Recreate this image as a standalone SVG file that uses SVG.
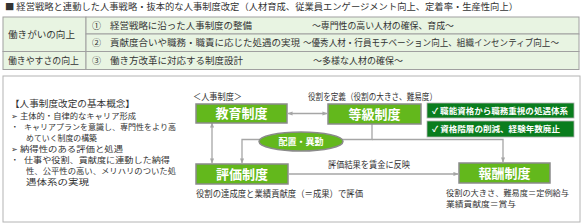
<svg xmlns="http://www.w3.org/2000/svg" width="582" height="224" viewBox="0 0 582 224">
<defs>
<style>
text{font-family:"Noto Sans CJK JP","Noto Sans",sans-serif;fill:#333;font-size:9px}
.sm{font-size:7.6px}
.cell{fill:#e8f4e2;stroke:#a0a0a0;stroke-width:1}
.node{fill:#63b81c;stroke:#8a8a8a;stroke-width:1.5}
.nl{fill:#fff;font-weight:bold;font-size:13px}
.el{fill:#fff;font-weight:bold;font-size:9px}
.badge{fill:#0a7d1e;stroke:#b0b0b0;stroke-width:0.8}
.bl{fill:#fff;font-weight:bold;font-size:8px}
.con{fill:none;stroke:#a6a6a6;stroke-width:1.3}
</style>
<marker id="ah" viewBox="0 0 6 6" refX="5.5" refY="3" markerWidth="5" markerHeight="5" orient="auto-start-reverse" markerUnits="userSpaceOnUse">
<path d="M0,0.5 L6,3 L0,5.5 z" fill="#a6a6a6"/>
</marker>
</defs>
<rect width="582" height="224" fill="#fff"/>
<text x="5" y="9.5" font-size="9.5" textLength="513" lengthAdjust="spacingAndGlyphs">■ 経営戦略と連動した人事戦略・抜本的な人事制度改定（人材育成、従業員エンゲージメント向上、定着率・生産性向上）</text>
<g id="table">
<rect class="cell" x="3" y="17" width="83" height="34.5"/>
<rect class="cell" x="86" y="17" width="493" height="17"/>
<rect class="cell" x="86" y="34" width="493" height="17.5"/>
<rect class="cell" x="3" y="51.5" width="83" height="18"/>
<rect class="cell" x="86" y="51.5" width="493" height="18"/>
<text x="8" y="37.5" font-size="9.5" textLength="67" lengthAdjust="spacingAndGlyphs">働きがいの向上</text>
<text x="8" y="64" font-size="9.5" textLength="71" lengthAdjust="spacingAndGlyphs">働きやすさの向上</text>
<text x="92" y="28.5" font-size="9.5">①</text>
<text x="110" y="28.5" font-size="9.5" textLength="142" lengthAdjust="spacingAndGlyphs">経営戦略に沿った人事制度の整備</text>
<text x="312" y="28.5" font-size="9.5" textLength="142" lengthAdjust="spacingAndGlyphs">～専門性の高い人材の確保、育成～</text>
<text x="92" y="46" font-size="9.5">②</text>
<text x="110" y="46" font-size="9.5" textLength="190" lengthAdjust="spacingAndGlyphs">貢献度合いや職務・職責に応じた処遇の実現</text>
<text x="303" y="46" font-size="9.5" textLength="256" lengthAdjust="spacingAndGlyphs">～優秀人材・行員モチベーション向上、組織インセンティブ向上～</text>
<text x="92" y="64" font-size="9.5">③</text>
<text x="110" y="64" font-size="9.5" textLength="133" lengthAdjust="spacingAndGlyphs">働き方改革に対応する制度設計</text>
<text x="313" y="64" font-size="9.5" textLength="90" lengthAdjust="spacingAndGlyphs">～多様な人材の確保～</text>
</g>
<rect x="3" y="76" width="577" height="146" fill="#fff" stroke="#b4b4b4" stroke-width="1"/>
<g id="concept">
<text x="10" y="107" textLength="125" lengthAdjust="spacingAndGlyphs">【人事制度改定の基本概念】</text>
<text class="sm" x="11" y="119">➢</text>
<text class="sm" x="20" y="119" textLength="116" lengthAdjust="spacingAndGlyphs">主体的・自律的なキャリア形成</text>
<text class="sm" x="11" y="130">・</text>
<text class="sm" x="24" y="130" textLength="152" lengthAdjust="spacingAndGlyphs">キャリアプランを意識し、専門性をより高</text>
<text class="sm" x="26" y="141" textLength="71" lengthAdjust="spacingAndGlyphs">めていく制度の構築</text>
<text class="sm" x="11" y="152">➢</text>
<text class="sm" x="20" y="152" textLength="103" lengthAdjust="spacingAndGlyphs">納得性のある評価と処遇</text>
<text class="sm" x="11" y="163">・</text>
<text class="sm" x="24" y="163" textLength="146" lengthAdjust="spacingAndGlyphs">仕事や役割、貢献度に連動した納得</text>
<text class="sm" x="26" y="174" textLength="150" lengthAdjust="spacingAndGlyphs">性、公平性の高い、メリハリのついた処</text>
<text class="sm" x="26" y="185" textLength="63" lengthAdjust="spacingAndGlyphs">遇体系の実現</text>
</g>
<text x="193" y="99.5" textLength="49" lengthAdjust="spacingAndGlyphs">＜人事制度＞</text>
<text x="308" y="99.5" textLength="129" lengthAdjust="spacingAndGlyphs">役割を定義（役割の大きさ、難易度）</text>
<g id="connectors">
<line class="con" x1="288" y1="113.5" x2="327" y2="113.5" marker-start="url(#ah)" marker-end="url(#ah)"/>
<line class="con" x1="212" y1="123" x2="212" y2="163" marker-start="url(#ah)" marker-end="url(#ah)"/>
<polyline class="con" points="372,124 372,139.5 242,139.5 242,163" marker-end="url(#ah)"/>
<polyline class="con" points="372,139.5 503,139.5 503,162" marker-end="url(#ah)"/>
<line class="con" x1="289" y1="174" x2="458" y2="174" marker-end="url(#ah)"/>
</g>
<g id="n-kyoiku">
<rect class="node" x="196" y="104" width="91" height="19"/>
<text class="nl" x="241.5" y="118" text-anchor="middle">教育制度</text>
</g>
<g id="n-tokyu">
<rect class="node" x="328" y="104" width="93" height="20"/>
<text class="nl" x="374.5" y="118.5" text-anchor="middle">等級制度</text>
</g>
<g id="n-haichi">
<ellipse class="node" cx="301" cy="141.5" rx="42" ry="9.5" stroke-width="1"/>
<text class="el" x="301" y="144.8" text-anchor="middle">配置・異動</text>
</g>
<g id="n-hyoka">
<rect class="node" x="196" y="164" width="92" height="20"/>
<text class="nl" x="242" y="178.5" text-anchor="middle">評価制度</text>
</g>
<g id="n-hoshu">
<rect class="node" x="459" y="163" width="91" height="20"/>
<text class="nl" x="504.5" y="177.5" text-anchor="middle">報酬制度</text>
</g>
<g id="b1">
<rect class="badge" x="427" y="103" width="147" height="15"/>
<text class="bl" x="432" y="113.5" textLength="136" lengthAdjust="spacingAndGlyphs">✓ 職能資格から職務重視の処遇体系</text>
</g>
<g id="b2">
<rect class="badge" x="427" y="121" width="147" height="16"/>
<text class="bl" x="432" y="132" textLength="128" lengthAdjust="spacingAndGlyphs">✓ 資格階層の削減、経験年数廃止</text>
</g>
<text x="328" y="168" textLength="82" lengthAdjust="spacingAndGlyphs">評価結果を賃金に反映</text>
<text x="196" y="196.5" textLength="167" lengthAdjust="spacingAndGlyphs">役割の達成度と業績貢献度（＝成果）で評価</text>
<text class="sm" x="446" y="195.5" textLength="123" lengthAdjust="spacingAndGlyphs">役割の大きさ、難易度＝定例給与</text>
<text class="sm" x="446" y="206.5" textLength="70" lengthAdjust="spacingAndGlyphs">業績貢献度＝賞与</text>
</svg>
